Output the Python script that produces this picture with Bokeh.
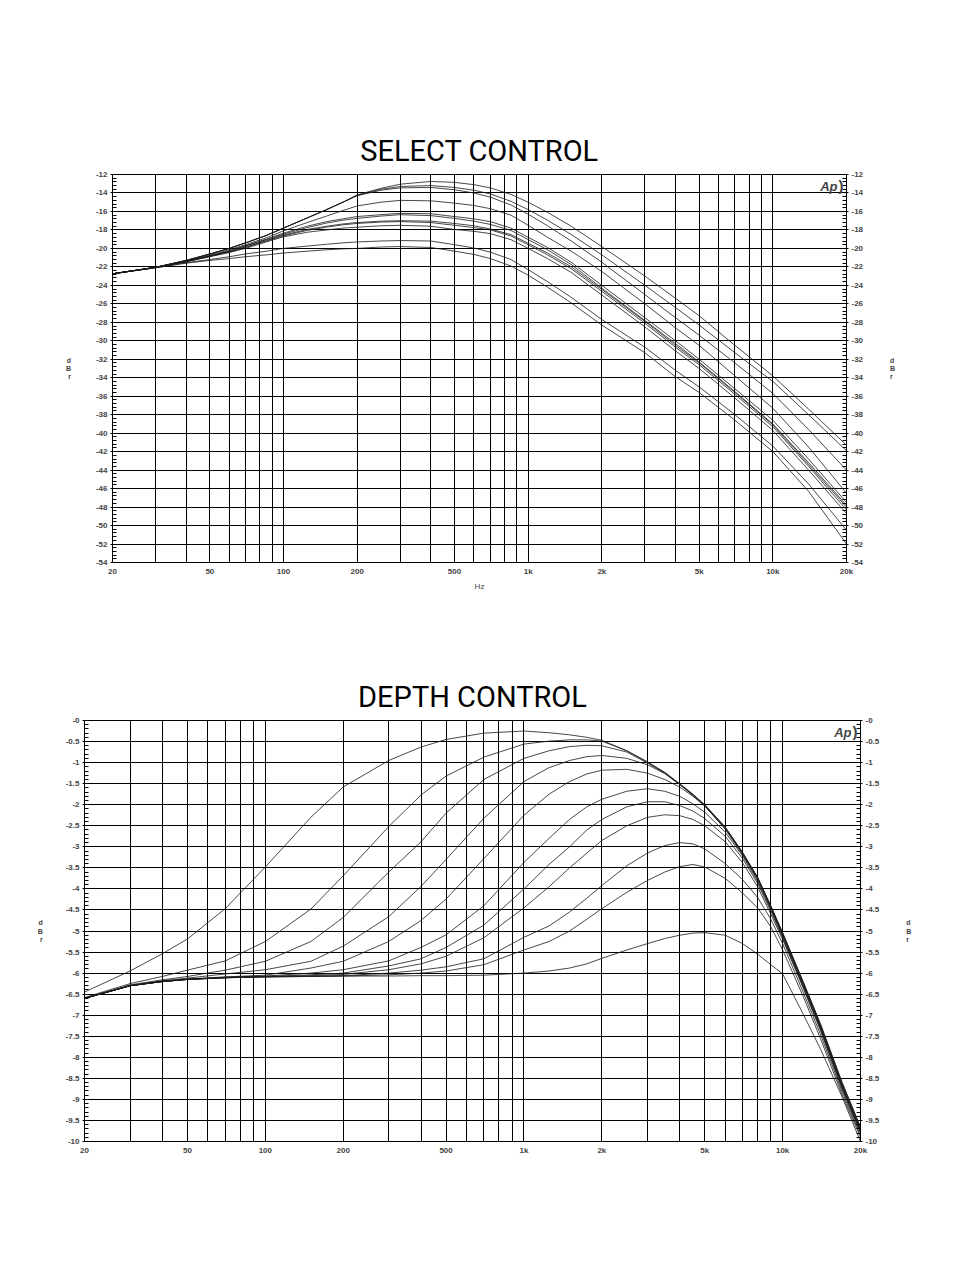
from bokeh.plotting import figure
from bokeh.models import FixedTicker, LinearAxis, Label, Range1d, Title
from bokeh.embed import file_html
from bokeh.resources import INLINE

# ---------------- data ----------------
x_ticks = [20, 50, 100, 200, 500, 1000, 2000, 5000, 10000, 20000]
x_tick_labels = ["20", "50", "100", "200", "500", "1k", "2k", "5k", "10k", "20k"]
grid_freqs = [m * d for d in (10, 100, 1000, 10000) for m in range(1, 10) if 20 <= m * d <= 20000]

select_y_ticks = list(range(-54, -11, 2))
depth_y_ticks = [-10 + 0.5 * i for i in range(21)]

select_freq = [20, 30, 40, 50, 60, 70, 85, 100, 125, 150, 175, 200, 250, 300, 400, 500, 600, 700,
               850, 1000, 1200, 1500, 2000, 3000, 4000, 5000, 7000, 10000, 14000, 20000]
select_1 = [-22.75, -22.05, -21.3, -20.6, -20.0, -19.4, -18.6, -17.8, -16.7, -15.8, -15.0, -14.2, -13.5, -13.05, -12.75, -12.85, -13.1, -13.45, -14.15, -15.0, -16.1, -17.6, -19.8, -23.0, -25.4, -27.3, -30.5, -33.8, -37.4, -41.3]
select_2 = [-22.75, -22.05, -21.3, -20.6, -20.0, -19.4, -18.6, -17.8, -16.7, -15.8, -15.0, -14.25, -13.6, -13.3, -13.2, -13.4, -13.7, -14.1, -14.9, -15.8, -16.95, -18.5, -20.7, -24.0, -26.4, -28.3, -31.3, -34.4, -38.0, -41.9]
select_3 = [-22.75, -22.05, -21.3, -20.6, -20.0, -19.4, -18.6, -17.8, -16.7, -15.8, -15.0, -14.3, -13.7, -13.45, -13.4, -13.65, -14.0, -14.45, -15.3, -16.3, -17.55, -19.2, -21.5, -25.0, -27.5, -29.4, -32.4, -35.7, -39.6, -44.0]
select_4 = [-22.75, -22.05, -21.35, -20.7, -20.15, -19.6, -18.85, -18.1, -17.2, -16.5, -15.9, -15.4, -15.0, -14.8, -14.85, -15.1, -15.35, -15.7, -16.4, -17.5, -18.8, -20.3, -22.5, -26.0, -28.6, -30.5, -33.8, -37.3, -41.5, -46.5]
select_5 = [-22.75, -22.05, -21.4, -20.8, -20.25, -19.7, -19.0, -18.35, -17.6, -17.1, -16.8, -16.55, -16.35, -16.2, -16.25, -16.55, -16.8, -17.1, -17.8, -18.8, -19.9, -21.5, -24.0, -27.5, -30.0, -32.0, -35.2, -38.6, -42.8, -47.5]
select_6 = [-22.75, -22.05, -21.4, -20.8, -20.3, -19.75, -19.05, -18.45, -17.75, -17.25, -16.95, -16.75, -16.5, -16.35, -16.45, -16.75, -17.05, -17.4, -18.05, -19.05, -20.15, -21.75, -24.3, -27.8, -30.3, -32.3, -35.5, -39.0, -43.2, -47.8]
select_7 = [-22.75, -22.05, -21.4, -20.85, -20.35, -19.85, -19.15, -18.55, -17.95, -17.6, -17.35, -17.2, -17.05, -17.0, -17.05, -17.3, -17.55, -17.9, -18.5, -19.45, -20.5, -22.0, -24.45, -27.9, -30.5, -32.4, -35.6, -39.1, -43.4, -48.0]
select_8 = [-22.75, -22.05, -21.45, -20.85, -20.4, -19.9, -19.2, -18.65, -18.05, -17.7, -17.45, -17.3, -17.15, -17.1, -17.2, -17.5, -17.75, -18.0, -18.65, -19.6, -20.7, -22.2, -24.65, -28.1, -30.7, -32.6, -35.8, -39.3, -43.6, -48.3]
select_9 = [-22.75, -22.05, -21.45, -20.9, -20.45, -20.0, -19.3, -18.75, -18.25, -18.0, -17.8, -17.7, -17.55, -17.5, -17.6, -17.95, -18.15, -18.4, -19.05, -20.0, -21.1, -22.6, -25.05, -28.5, -31.1, -33.0, -36.2, -39.7, -44.0, -48.7]
select_10 = [-22.75, -22.1, -21.55, -21.2, -20.9, -20.6, -20.3, -20.0, -19.75, -19.55, -19.4, -19.3, -19.2, -19.15, -19.2, -19.6, -19.95, -20.4, -21.2, -22.3, -23.6, -25.3, -27.7, -30.7, -33.2, -35.0, -38.0, -41.4, -45.5, -50.5]
select_11 = [-22.75, -22.1, -21.6, -21.3, -21.1, -20.9, -20.7, -20.5, -20.3, -20.15, -20.05, -20.0, -19.85, -19.8, -19.9, -20.3, -20.65, -21.1, -21.9, -22.9, -24.2, -25.9, -28.3, -31.3, -33.9, -35.6, -38.6, -42.0, -46.3, -52.0]
select_curves = [select_1, select_2, select_3, select_4, select_5, select_6,
                 select_7, select_8, select_9, select_10, select_11]

depth_freq = [20, 30, 40, 50, 70, 100, 150, 200, 300, 400, 500, 700, 1000, 1250, 1500, 1750,
              2000, 2500, 3000, 3500, 4000, 4500, 5000, 6000, 7000, 8000, 9000, 10000,
              12000, 14000, 17000, 20000]
depth_1 = [-6.45, -5.95, -5.54, -5.19, -4.47, -3.48, -2.30, -1.58, -0.95, -0.63, -0.45, -0.30, -0.25, -0.29, -0.34, -0.40, -0.47, -0.72, -0.98, -1.23, -1.50, -1.75, -2.00, -2.53, -3.13, -3.72, -4.40, -5.04, -6.20, -7.20, -8.60, -9.65]
depth_2 = [-6.58, -6.25, -6.08, -5.93, -5.71, -5.25, -4.48, -3.69, -2.52, -1.77, -1.32, -0.87, -0.56, -0.49, -0.46, -0.46, -0.49, -0.72, -0.99, -1.24, -1.51, -1.76, -2.01, -2.54, -3.14, -3.73, -4.41, -5.05, -6.21, -7.22, -8.62, -9.68]
depth_3 = [-6.60, -6.28, -6.16, -6.08, -5.93, -5.72, -5.25, -4.68, -3.60, -2.88, -2.20, -1.40, -0.90, -0.72, -0.62, -0.59, -0.60, -0.75, -1.01, -1.25, -1.52, -1.77, -2.02, -2.55, -3.15, -3.74, -4.42, -5.06, -6.23, -7.24, -8.65, -9.70]
depth_4 = [-6.60, -6.30, -6.18, -6.12, -6.02, -5.92, -5.72, -5.36, -4.66, -3.94, -3.30, -2.32, -1.45, -1.12, -0.95, -0.86, -0.83, -0.90, -1.05, -1.26, -1.52, -1.78, -2.03, -2.57, -3.17, -3.76, -4.44, -5.08, -6.25, -7.26, -8.67, -9.72]
depth_5 = [-6.60, -6.30, -6.19, -6.14, -6.09, -6.05, -5.88, -5.72, -5.25, -4.75, -4.24, -3.28, -2.25, -1.75, -1.45, -1.27, -1.18, -1.16, -1.25, -1.40, -1.58, -1.80, -2.03, -2.58, -3.19, -3.78, -4.46, -5.10, -6.27, -7.28, -8.69, -9.74]
depth_6 = [-6.60, -6.30, -6.20, -6.15, -6.10, -6.07, -6.00, -5.92, -5.71, -5.39, -5.09, -4.40, -3.37, -2.80, -2.35, -2.05, -1.87, -1.68, -1.62, -1.68, -1.80, -1.98, -2.18, -2.65, -3.22, -3.82, -4.49, -5.13, -6.30, -7.31, -8.72, -9.76]
depth_7 = [-6.60, -6.30, -6.20, -6.15, -6.10, -6.08, -6.04, -6.00, -5.83, -5.66, -5.39, -4.86, -4.00, -3.42, -3.00, -2.60, -2.35, -2.05, -1.93, -1.93, -2.02, -2.15, -2.33, -2.75, -3.28, -3.87, -4.53, -5.16, -6.32, -7.33, -8.74, -9.78]
depth_8 = [-6.60, -6.30, -6.20, -6.15, -6.11, -6.08, -6.06, -6.03, -5.92, -5.78, -5.60, -5.16, -4.45, -3.95, -3.50, -3.15, -2.85, -2.50, -2.30, -2.24, -2.26, -2.35, -2.50, -2.88, -3.38, -3.95, -4.60, -5.20, -6.35, -7.36, -8.77, -9.80]
depth_9 = [-6.60, -6.30, -6.20, -6.15, -6.11, -6.09, -6.07, -6.06, -6.00, -5.93, -5.85, -5.66, -5.15, -4.88, -4.55, -4.22, -3.92, -3.45, -3.15, -2.97, -2.90, -2.93, -3.05, -3.40, -3.78, -4.20, -4.72, -5.30, -6.45, -7.45, -8.83, -9.85]
depth_10 = [-6.60, -6.30, -6.20, -6.15, -6.11, -6.09, -6.08, -6.07, -6.04, -6.00, -5.95, -5.80, -5.45, -5.25, -5.00, -4.72, -4.47, -4.08, -3.80, -3.60, -3.47, -3.42, -3.48, -3.75, -4.10, -4.45, -4.90, -5.45, -6.55, -7.55, -8.90, -9.90]
depth_11 = [-6.60, -6.30, -6.20, -6.15, -6.11, -6.09, -6.08, -6.07, -6.07, -6.06, -6.06, -6.05, -6.00, -5.95, -5.88, -5.78, -5.65, -5.45, -5.30, -5.18, -5.10, -5.05, -5.04, -5.10, -5.30, -5.55, -5.80, -6.02, -6.97, -7.80, -8.95, -10.0]
depth_curves = [depth_1, depth_2, depth_3, depth_4, depth_5, depth_6,
                depth_7, depth_8, depth_9, depth_10, depth_11]

# ---------------- styling helpers ----------------
TICK_FONT = "Liberation Sans"


def fmt(v):
    return "-0" if v == 0 else ("%g" % v)


def style_y_axis(ax, ticks, minor, standoff):
    ax.ticker = FixedTicker(ticks=ticks, minor_ticks=minor)
    ax.major_label_overrides = {t: fmt(t) for t in ticks}
    ax.major_label_text_font = TICK_FONT
    ax.major_label_text_font_style = "bold"
    ax.major_label_text_font_size = "8px"
    ax.major_label_standoff = 3
    ax.axis_line_color = "black"
    ax.major_tick_in = 0
    ax.major_tick_out = 2
    ax.minor_tick_in = 4
    ax.minor_tick_out = 0
    ax.major_tick_line_color = "black"
    ax.minor_tick_line_color = "black"
    ax.axis_label = "d\nB\nr"
    ax.axis_label_text_font = TICK_FONT
    ax.axis_label_text_font_style = "bold"
    ax.axis_label_text_font_size = "7px"
    ax.axis_label_standoff = standoff
    try:
        ax.axis_label_orientation = "horizontal"
    except Exception:
        pass


def make_chart(title, curves, freq, y_lo, y_hi, y_ticks, minor_step,
               height, b_top, b_bottom, b_left, b_right, hz_label, so_left, so_right):
    p = figure(width=938, height=height, x_axis_type="log",
               x_range=Range1d(20, 20000), y_range=Range1d(y_lo, y_hi),
               output_backend="svg", toolbar_location=None,
               min_border_top=b_top, min_border_bottom=b_bottom,
               min_border_left=b_left, min_border_right=b_right)
    p.title = Title(text=title, align="center", text_font="Roboto",
                    text_font_size="29px", text_font_style="normal",
                    text_color="black", standoff=13)
    p.outline_line_color = "black"
    p.outline_line_width = 1

    xa = p.xaxis[0]
    xa.ticker = FixedTicker(ticks=x_ticks)
    xa.major_label_overrides = dict(zip(x_ticks, x_tick_labels))
    xa.major_label_text_font = TICK_FONT
    xa.major_label_text_font_style = "bold"
    xa.major_label_text_font_size = "8px"
    xa.major_label_standoff = 4
    xa.major_tick_in = 0
    xa.major_tick_out = 0
    xa.minor_tick_in = 0
    xa.minor_tick_out = 0
    xa.major_tick_line_color = None
    xa.minor_tick_line_color = None
    xa.axis_line_color = "black"
    if hz_label:
        xa.axis_label = "Hz"
        xa.axis_label_text_font = TICK_FONT
        xa.axis_label_text_font_size = "8px"
        xa.axis_label_text_font_style = "normal"
        xa.axis_label_standoff = 3

    minor = []
    for i in range(len(y_ticks) - 1):
        for k in range(1, 5):
            minor.append(y_ticks[i] + k * minor_step)
    style_y_axis(p.yaxis[0], y_ticks, minor, so_left)
    ra = LinearAxis()
    style_y_axis(ra, y_ticks, minor, so_right)
    p.add_layout(ra, "right")

    p.xgrid.ticker = FixedTicker(ticks=grid_freqs)
    p.xgrid.grid_line_color = "black"
    p.xgrid.grid_line_width = 1
    p.ygrid.ticker = FixedTicker(ticks=y_ticks)
    p.ygrid.grid_line_color = "black"
    p.ygrid.grid_line_width = 1

    for c in curves:
        p.line(freq, c, line_color="#1a1a1a", line_width=0.8)

    p.add_layout(Label(x=20000, y=y_hi, x_offset=-9, y_offset=-4, text="Ap",
                       text_font=TICK_FONT, text_font_style="bold italic",
                       text_font_size="13px", text_align="right", text_baseline="top"))
    p.add_layout(Label(x=20000, y=y_hi, x_offset=-3, y_offset=-2, text=")",
                       text_font=TICK_FONT, text_font_style="bold",
                       text_font_size="15px", text_align="right", text_baseline="top"))
    return p


p1 = make_chart("SELECT CONTROL", select_curves, select_freq, -54, -12, select_y_ticks, 0.4,
                610, 174, 48, 112, 92, True, 22, 24)
p2 = make_chart("DEPTH CONTROL", depth_curves, depth_freq, -10, 0, depth_y_ticks, 0.1,
                591, 110, 60, 84, 78, False, 20, 24)

open("out.html", "w").write(file_html([p1, p2], INLINE))
